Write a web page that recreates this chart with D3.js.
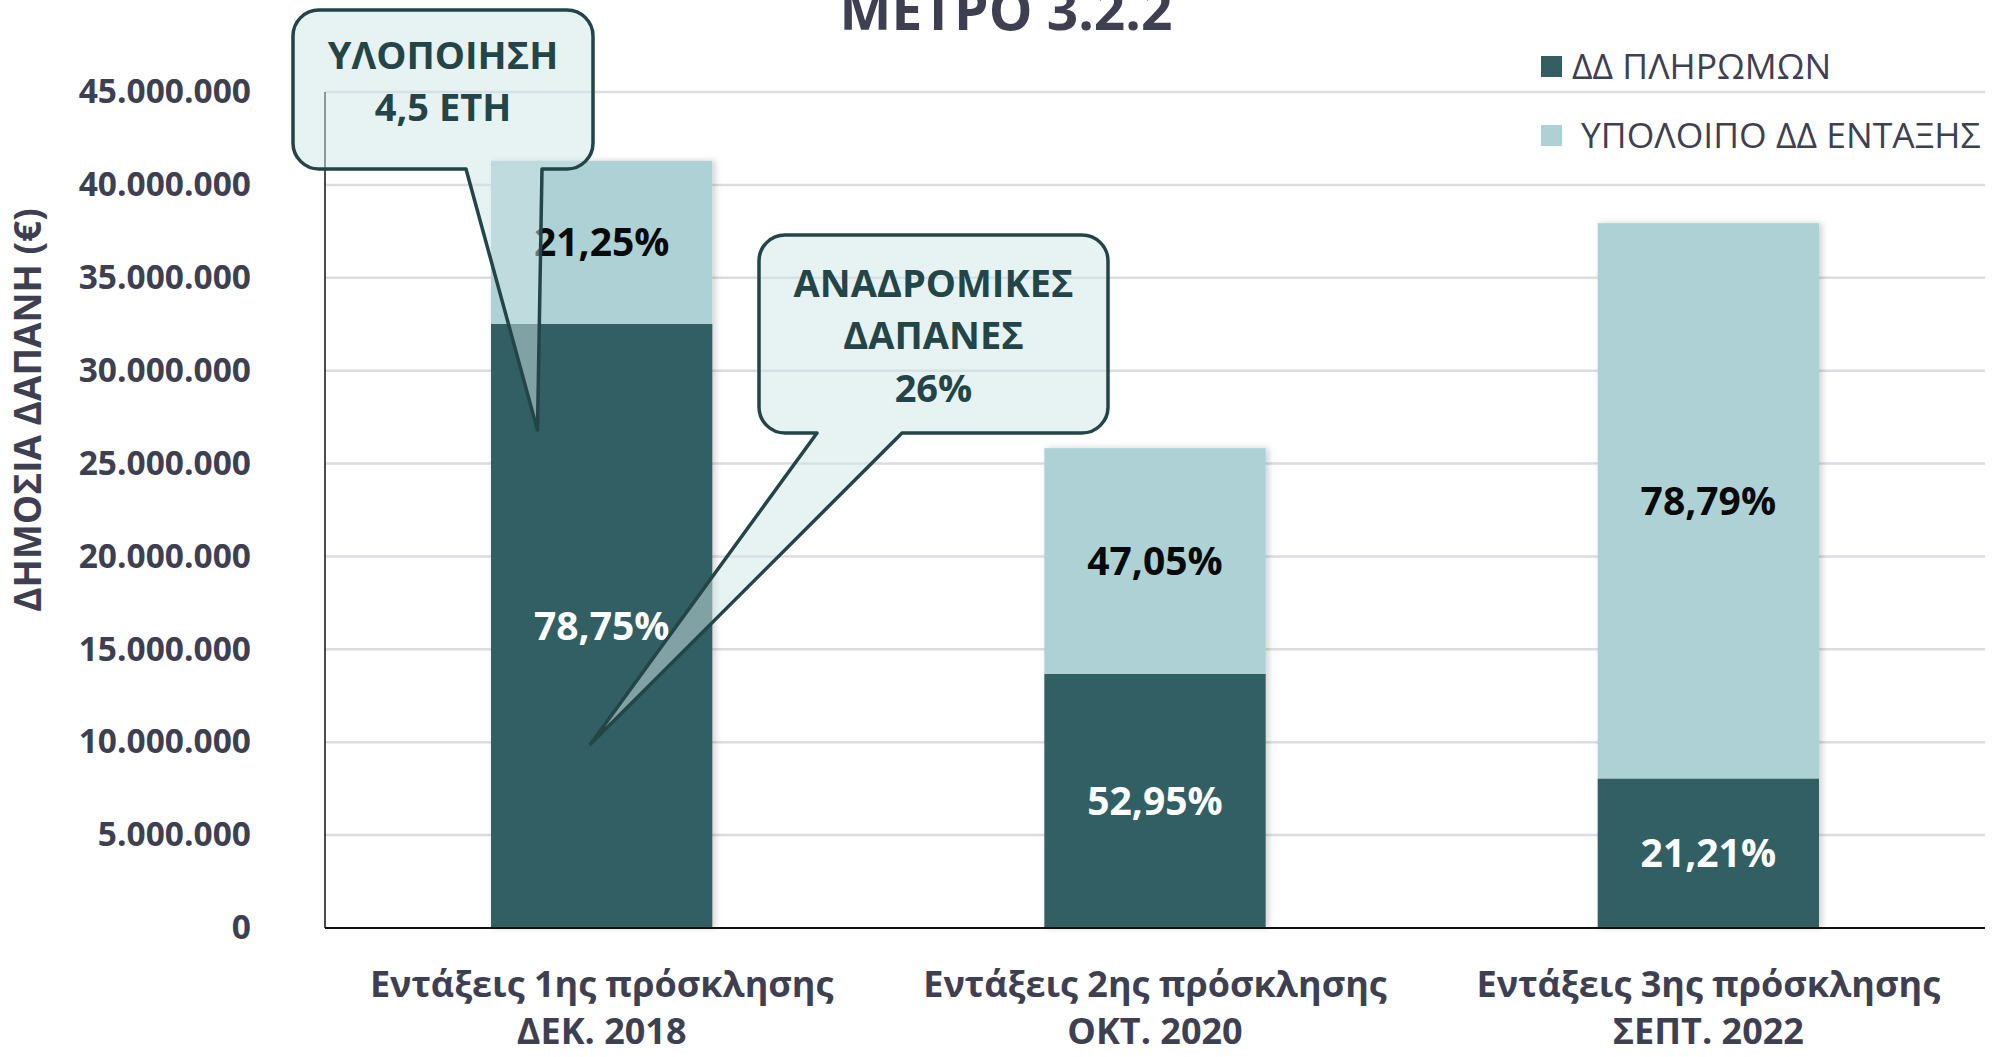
<!DOCTYPE html>
<html>
<head>
<meta charset="utf-8">
<script src="https://cdn.jsdelivr.net/npm/d3@7"></script>
<style>
    html, body { margin: 0; padding: 0; background: #ffffff; }
    svg { display: block; font-family: "Open Sans", "Noto Sans", sans-serif; }
</style>
</head>
<body>
<svg id="chart" width="2001" height="1057"></svg>
<script>
"use strict";

// chart data
const categories = ["c1", "c2", "c3"];
const categoryLines = [
    ["Εντάξεις 1ης πρόσκλησης", "ΔΕΚ. 2018"],
    ["Εντάξεις 2ης πρόσκλησης", "ΟΚΤ. 2020"],
    ["Εντάξεις 3ης πρόσκλησης", "ΣΕΠΤ. 2022"]
];
const paymentValues = [32520000, 13680000, 8050000];
const remainderValues = [8780000, 12150000, 29890000];
const paymentLabels = ["78,75%", "52,95%", "21,21%"];
const remainderLabels = ["21,25%", "47,05%", "78,79%"];
const seriesNames = ["ΔΔ ΠΛΗΡΩΜΩΝ", "ΥΠΟΛΟΙΠΟ ΔΔ ΕΝΤΑΞΗΣ"];
const yTicks = [0, 5e6, 10e6, 15e6, 20e6, 25e6, 30e6, 35e6, 40e6, 45e6];
const titleText = "ΜΕΤΡΟ 3.2.2";
const yTitle = "ΔΗΜΟΣΙΑ ΔΑΠΑΝΗ (€)";

// callouts: text lines, the bar they point into and the value at the tip
const calloutLines = [["ΥΛΟΠΟΙΗΣΗ", "4,5 ΕΤΗ"], ["ΑΝΑΔΡΟΜΙΚΕΣ", "ΔΑΠΑΝΕΣ", "26%"]];
const calloutTargets = [{ cat: "c1", value: 26800000 }, { cat: "c1", value: 9900000 }];

const COLORS = {
    payment: "#335f63",
    remainder: "#aed1d5",
    text: "#3f3f52",
    grid: "#dcdce2",
    callout: "#234548",
    calloutFill: "rgba(208, 229, 231, 0.5)"
};

const plot = { left: 325, right: 1985, top: 92, bottom: 928 };
// box geometry for the callouts (pixels) and where on the bar the tip lands
const calloutBoxes = [
    { x0: 293, x1: 593, y0: 10, y1: 169, baseL: 466, baseR: 542, tipAt: 0.21, firstY: 55 },
    { x0: 759, x1: 1108, y0: 235, y1: 433, baseL: 817, baseR: 902, tipAt: 0.45, firstY: 283 }
];

const svg = d3.select("#chart");
const locale = d3.formatLocale({ decimal: ",", thousands: ".", grouping: [3], currency: ["", "€"] });
const fmt = locale.format(",.0f");

const x = d3.scaleBand()
    .domain(categories)
    .range([plot.left, plot.right])
    .paddingInner(0.6)
    .paddingOuter(0.3);
const y = d3.scaleLinear().domain([0, 45e6]).range([plot.bottom, plot.top]);

const defs = svg.append("defs");
const shadow = defs.append("filter").attr("id", "barShadow")
    .attr("x", "-10%").attr("y", "-10%").attr("width", "130%").attr("height", "120%");
shadow.append("feDropShadow")
    .attr("dx", 3).attr("dy", 0).attr("stdDeviation", 3)
    .attr("flood-color", "#000").attr("flood-opacity", 0.18);

// gridlines
svg.append("g")
    .selectAll("line")
    .data(yTicks.filter((t) => t > 0))
    .join("line")
    .attr("x1", plot.left)
    .attr("x2", plot.right)
    .attr("y1", (d) => y(d))
    .attr("y2", (d) => y(d))
    .attr("stroke", COLORS.grid)
    .attr("stroke-width", 2.5);

// y axis tick labels
const yAxis = svg.append("g")
    .attr("transform", `translate(${plot.left},0)`)
    .call(d3.axisLeft(y).tickValues(yTicks).tickFormat(fmt).tickSize(0).tickPadding(74));
yAxis.select(".domain").remove();
yAxis.selectAll("text")
    .attr("fill", COLORS.text)
    .attr("font-size", 33.5)
    .attr("font-weight", 700)
    .attr("font-family", "'Open Sans', sans-serif");

// stacked bars
const rows = categories.map((c, i) => ({
    cat: c,
    payment: paymentValues[i],
    remainder: remainderValues[i]
}));
const stack = d3.stack().keys(["payment", "remainder"])(rows);

const barG = svg.append("g").attr("filter", "url(#barShadow)");
barG.selectAll("g")
    .data(stack)
    .join("g")
    .attr("fill", (s) => COLORS[s.key])
    .selectAll("rect")
    .data((s) => s)
    .join("rect")
    .attr("x", (d) => x(d.data.cat))
    .attr("width", x.bandwidth())
    .attr("y", (d) => y(d[1]))
    .attr("height", (d) => y(d[0]) - y(d[1]));

// segment percentage labels
const labelG = svg.append("g")
    .attr("font-size", 39)
    .attr("font-weight", 700)
    .attr("text-anchor", "middle");
stack.forEach((s) => {
    const texts = s.key === "payment" ? paymentLabels : remainderLabels;
    labelG.append("g")
        .selectAll("text")
        .data(s)
        .join("text")
        .attr("x", (d) => x(d.data.cat) + x.bandwidth() / 2)
        .attr("y", (d) => (y(d[0]) + y(d[1])) / 2)
        .attr("dy", "0.36em")
        .attr("fill", s.key === "payment" ? "#ffffff" : "#0a0a0a")
        .text((d, i) => texts[i]);
});

// axes lines
svg.append("line")
    .attr("x1", plot.left).attr("x2", plot.left)
    .attr("y1", y(45e6)).attr("y2", y(0))
    .attr("stroke", "#111").attr("stroke-width", 1.5);
svg.append("line")
    .attr("x1", plot.left).attr("x2", plot.right)
    .attr("y1", y(0)).attr("y2", y(0))
    .attr("stroke", "#111").attr("stroke-width", 2);

// category labels
const catG = svg.append("g")
    .attr("font-size", 36)
    .attr("font-weight", 700)
    .attr("fill", COLORS.text)
    .attr("text-anchor", "middle");
categories.forEach((c, i) => {
    const t = catG.append("text")
        .attr("x", x(c) + x.bandwidth() / 2)
        .attr("y", 997);
    categoryLines[i].forEach((line, j) => {
        t.append("tspan")
            .attr("x", x(c) + x.bandwidth() / 2)
            .attr("dy", j === 0 ? 0 : 47)
            .text(line);
    });
});

// y axis title
svg.append("text")
    .attr("transform", `translate(41,${(plot.top + plot.bottom) / 2 - 100}) rotate(-90)`)
    .attr("text-anchor", "middle")
    .attr("font-size", 37)
    .attr("font-weight", 700)
    .attr("fill", COLORS.text)
    .text(yTitle);

// title (cropped at the top edge, as in the original)
svg.append("text")
    .attr("x", 1006)
    .attr("y", 30)
    .attr("text-anchor", "middle")
    .attr("font-size", 55)
    .attr("font-weight", 700)
    .attr("fill", COLORS.text)
    .text(titleText);

// legend
const legend = svg.append("g").attr("transform", "translate(1541,56)");
["payment", "remainder"].forEach((k, i) => {
    const row = legend.append("g").attr("transform", `translate(0,${i * 69})`);
    row.append("rect")
        .attr("width", 21).attr("height", 21)
        .attr("fill", COLORS[k]);
    row.append("text")
        .attr("x", i === 0 ? 31 : 40)
        .attr("y", 10.5)
        .attr("dy", "0.36em")
        .attr("font-size", 35.5)
        .attr("fill", COLORS.text)
        .text(seriesNames[i]);
});

// callouts
const calloutPath = (b, tip) => {
    const r = 26;
    const p = d3.path();
    p.moveTo(b.x0 + r, b.y0);
    p.lineTo(b.x1 - r, b.y0);
    p.arcTo(b.x1, b.y0, b.x1, b.y0 + r, r);
    p.lineTo(b.x1, b.y1 - r);
    p.arcTo(b.x1, b.y1, b.x1 - r, b.y1, r);
    p.lineTo(b.baseR, b.y1);
    p.lineTo(tip[0], tip[1]);
    p.lineTo(b.baseL, b.y1);
    p.lineTo(b.x0 + r, b.y1);
    p.arcTo(b.x0, b.y1, b.x0, b.y1 - r, r);
    p.lineTo(b.x0, b.y0 + r);
    p.arcTo(b.x0, b.y0, b.x0 + r, b.y0, r);
    p.closePath();
    return p.toString();
};

const calloutG = svg.append("g");
calloutBoxes.forEach((b, i) => {
    const target = calloutTargets[i];
    const tip = [x(target.cat) + x.bandwidth() * b.tipAt, y(target.value)];
    const g = calloutG.append("g");
    g.append("path")
        .attr("d", calloutPath(b, tip))
        .attr("fill", COLORS.calloutFill)
        .attr("stroke", COLORS.callout)
        .attr("stroke-width", 3.5)
        .attr("stroke-linejoin", "round");
    const cx = (b.x0 + b.x1) / 2;
    g.append("g")
        .attr("font-size", 38)
        .attr("font-weight", 700)
        .attr("fill", COLORS.callout)
        .attr("text-anchor", "middle")
        .selectAll("text")
        .data(calloutLines[i])
        .join("text")
        .attr("x", cx)
        .attr("y", (d, j) => b.firstY + j * 52.5)
        .attr("dy", "0.36em")
        .text((d) => d);
});
</script>
</body>
</html>
